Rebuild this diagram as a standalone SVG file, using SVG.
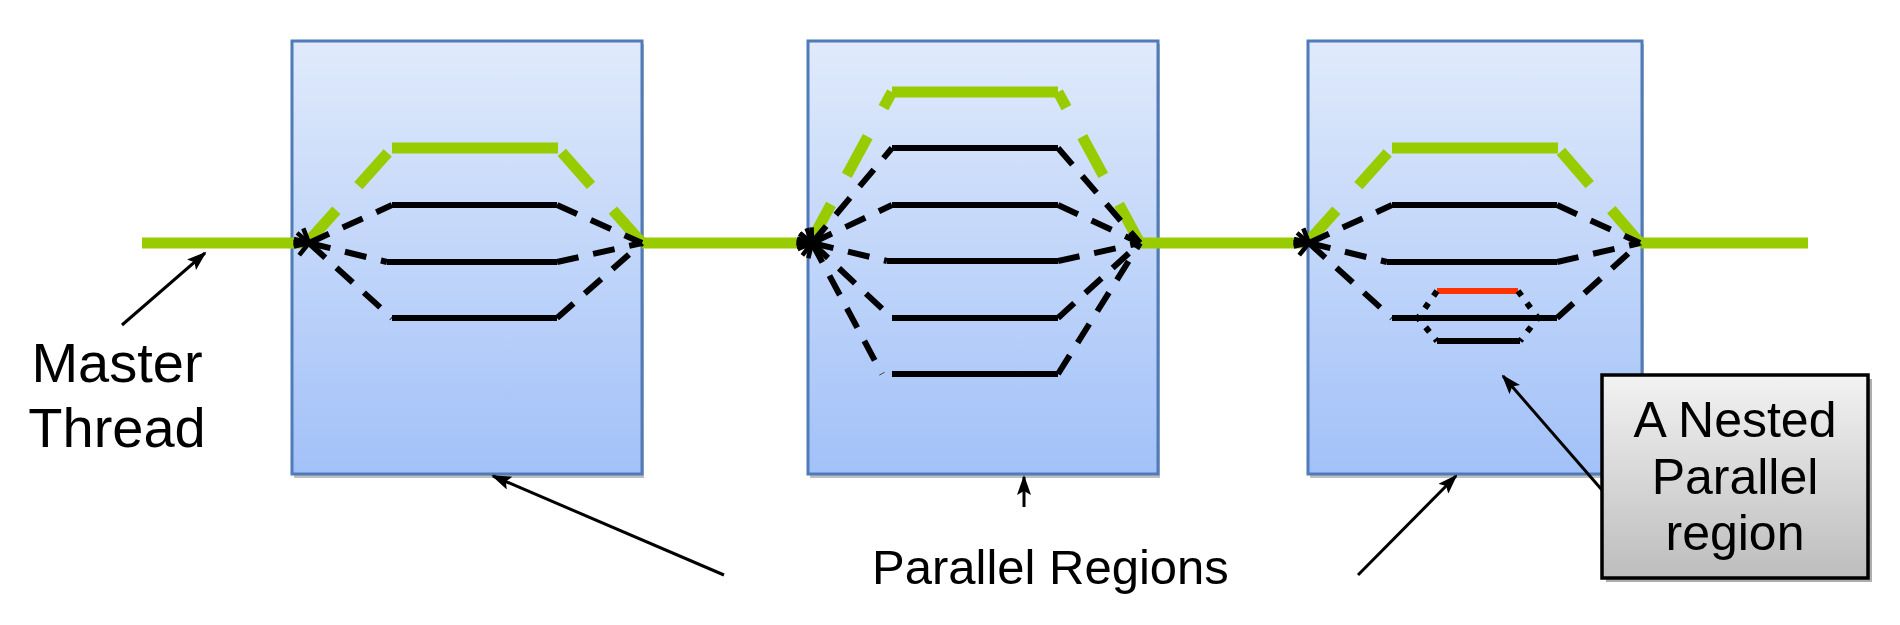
<svg xmlns="http://www.w3.org/2000/svg" width="1900" height="625" viewBox="0 0 1900 625">
<defs>
  <linearGradient id="boxg" x1="0" y1="0" x2="0" y2="1">
    <stop offset="0" stop-color="#e0eafb"/>
    <stop offset="1" stop-color="#a2c1f8"/>
  </linearGradient>
  <linearGradient id="grayg" x1="0" y1="0" x2="0" y2="1">
    <stop offset="0" stop-color="#f2f2f2"/>
    <stop offset="1" stop-color="#bdbdbd"/>
  </linearGradient>
  <marker id="open" markerUnits="userSpaceOnUse" viewBox="0 0 20 20" markerWidth="20" markerHeight="20" refX="3" refY="10" orient="auto-start-reverse">
    <path d="M17,3 L3,10 L17,17" fill="none" stroke="#000" stroke-width="4.5"/>
  </marker>
  <marker id="tri" markerUnits="userSpaceOnUse" viewBox="0 0 20 14" markerWidth="20" markerHeight="14" refX="18" refY="7" orient="auto">
    <path d="M0,0 L20,7 L0,14 L4,7 Z" fill="#000"/>
  </marker>
  <style>
    .box { fill: url(#boxg); stroke: #4f7bb8; stroke-width: 3; }
    .shadow { fill: #8a8a8a; opacity: 0.55; }
    .green { stroke: #99cc00; stroke-width: 11; fill: none; }
    .gdash { stroke: #99cc00; stroke-width: 11; fill: none; stroke-dasharray: 44 33; }
    .blk { stroke: #000; stroke-width: 6; fill: none; }
    .bdash { stroke: #000; stroke-width: 6; fill: none; stroke-dasharray: 22 15; }
    .bdot { stroke: #000; stroke-width: 6; fill: none; stroke-dasharray: 6 9; }
    .red { stroke: #ff3300; stroke-width: 6; fill: none; }
    .arrow { stroke: #000; stroke-width: 3; fill: none; marker-end: url(#tri); }
    .lbl { font-family: "Liberation Sans", Arial, sans-serif; fill: #000; }
  </style>
</defs>
<rect width="1900" height="625" fill="#fff"/>

<g id="region1">
  <rect class="shadow" x="294" y="44" width="350" height="434"/>
  <rect class="box" x="292" y="41" width="350" height="433"/>
</g>
<g id="region2">
  <rect class="shadow" x="810" y="44" width="350" height="434"/>
  <rect class="box" x="808" y="41" width="350" height="433"/>
</g>
<g id="region3">
  <rect class="shadow" x="1310" y="44" width="334" height="434"/>
  <rect class="box" x="1308" y="41" width="334" height="433"/>
</g>

<g id="master-thread">
  <line class="green" x1="142" y1="243" x2="307" y2="243"/>
  <line class="green" x1="642" y1="243" x2="810" y2="243"/>
  <line class="green" x1="1140" y1="243" x2="1307" y2="243"/>
  <line class="green" x1="1640" y1="243" x2="1808" y2="243"/>
</g>

<g id="threads1">
  <line class="gdash" x1="307" y1="243" x2="392" y2="148"/>
  <line class="green" x1="392" y1="148" x2="558" y2="148"/>
  <line class="gdash" x1="642" y1="243" x2="558" y2="148"/>
  <line class="bdash" marker-start="url(#open)" x1="309" y1="243" x2="392" y2="205"/>
  <line class="blk" x1="392" y1="205" x2="557" y2="205"/>
  <line class="bdash" x1="557" y1="205" x2="642" y2="243"/>
  <line class="bdash" marker-start="url(#open)" x1="309" y1="243" x2="387" y2="262"/>
  <line class="blk" x1="387" y1="262" x2="557" y2="262"/>
  <line class="bdash" x1="557" y1="262" x2="642" y2="243"/>
  <line class="bdash" marker-start="url(#open)" x1="309" y1="243" x2="392" y2="318"/>
  <line class="blk" x1="392" y1="318" x2="557" y2="318"/>
  <line class="bdash" x1="557" y1="318" x2="642" y2="243"/>
</g>

<g id="threads2">
  <line class="gdash" x1="810" y1="243" x2="892" y2="92"/>
  <line class="green" x1="892" y1="92" x2="1058" y2="92"/>
  <line class="gdash" x1="1140" y1="243" x2="1058" y2="92"/>
  <line class="bdash" marker-start="url(#open)" x1="812" y1="243" x2="892" y2="148"/>
  <line class="blk" x1="892" y1="148" x2="1058" y2="148"/>
  <line class="bdash" x1="1058" y1="148" x2="1140" y2="243"/>
  <line class="bdash" marker-start="url(#open)" x1="812" y1="243" x2="892" y2="205"/>
  <line class="blk" x1="892" y1="205" x2="1058" y2="205"/>
  <line class="bdash" x1="1058" y1="205" x2="1140" y2="243"/>
  <line class="bdash" marker-start="url(#open)" x1="812" y1="243" x2="887" y2="261"/>
  <line class="blk" x1="887" y1="261" x2="1058" y2="261"/>
  <line class="bdash" x1="1058" y1="261" x2="1140" y2="243"/>
  <line class="bdash" marker-start="url(#open)" x1="812" y1="243" x2="892" y2="318"/>
  <line class="blk" x1="892" y1="318" x2="1058" y2="318"/>
  <line class="bdash" x1="1058" y1="318" x2="1140" y2="243"/>
  <line class="bdash" marker-start="url(#open)" x1="812" y1="243" x2="882" y2="374"/>
  <line class="blk" x1="892" y1="374" x2="1058" y2="374"/>
  <line class="bdash" x1="1058" y1="374" x2="1140" y2="243"/>
</g>

<g id="threads3">
  <line class="gdash" x1="1307" y1="243" x2="1392" y2="148"/>
  <line class="green" x1="1392" y1="148" x2="1558" y2="148"/>
  <line class="gdash" x1="1640" y1="243" x2="1558" y2="148"/>
  <line class="bdash" marker-start="url(#open)" x1="1309" y1="243" x2="1392" y2="205"/>
  <line class="blk" x1="1392" y1="205" x2="1557" y2="205"/>
  <line class="bdash" x1="1557" y1="205" x2="1640" y2="243"/>
  <line class="bdash" marker-start="url(#open)" x1="1309" y1="243" x2="1387" y2="262"/>
  <line class="blk" x1="1387" y1="262" x2="1557" y2="262"/>
  <line class="bdash" x1="1557" y1="262" x2="1640" y2="243"/>
  <line class="bdash" marker-start="url(#open)" x1="1309" y1="243" x2="1392" y2="318"/>
  <line class="blk" x1="1392" y1="318" x2="1557" y2="318"/>
  <line class="bdash" x1="1557" y1="318" x2="1640" y2="243"/>
</g>

<g id="nested">
  <line class="red" x1="1437" y1="291" x2="1518" y2="291"/>
  <line class="blk" x1="1437" y1="341" x2="1520" y2="341"/>
  <polyline class="bdot" points="1437,291 1418,318 1437,341"/>
  <polyline class="bdot" points="1518,291 1538,318 1520,341"/>
</g>

<g id="connectors">
  <line class="arrow" x1="122" y1="325" x2="205" y2="253"/>
  <line class="arrow" x1="724" y1="575" x2="493" y2="476"/>
  <line class="arrow" x1="1024" y1="507" x2="1024" y2="477"/>
  <line class="arrow" x1="1358" y1="575" x2="1456" y2="476"/>
  <line class="arrow" x1="1602" y1="490" x2="1503" y2="376"/>
</g>

<g id="label-master">
  <text class="lbl" x="117" y="382" font-size="56" text-anchor="middle">Master</text>
  <text class="lbl" x="117" y="447" font-size="56" text-anchor="middle">Thread</text>
</g>

<g id="label-parallel">
  <text class="lbl" x="872" y="584" font-size="49">Parallel Regions</text>
</g>

<g id="nested-box">
  <rect x="1606" y="379" width="266" height="203" fill="#777" opacity="0.6"/>
  <rect x="1602" y="375" width="266" height="203" fill="url(#grayg)" stroke="#000" stroke-width="3.5"/>
  <text class="lbl" x="1735" y="437" font-size="50" text-anchor="middle">A Nested</text>
  <text class="lbl" x="1735" y="494" font-size="50" text-anchor="middle">Parallel</text>
  <text class="lbl" x="1735" y="550" font-size="50" text-anchor="middle">region</text>
</g>
</svg>
